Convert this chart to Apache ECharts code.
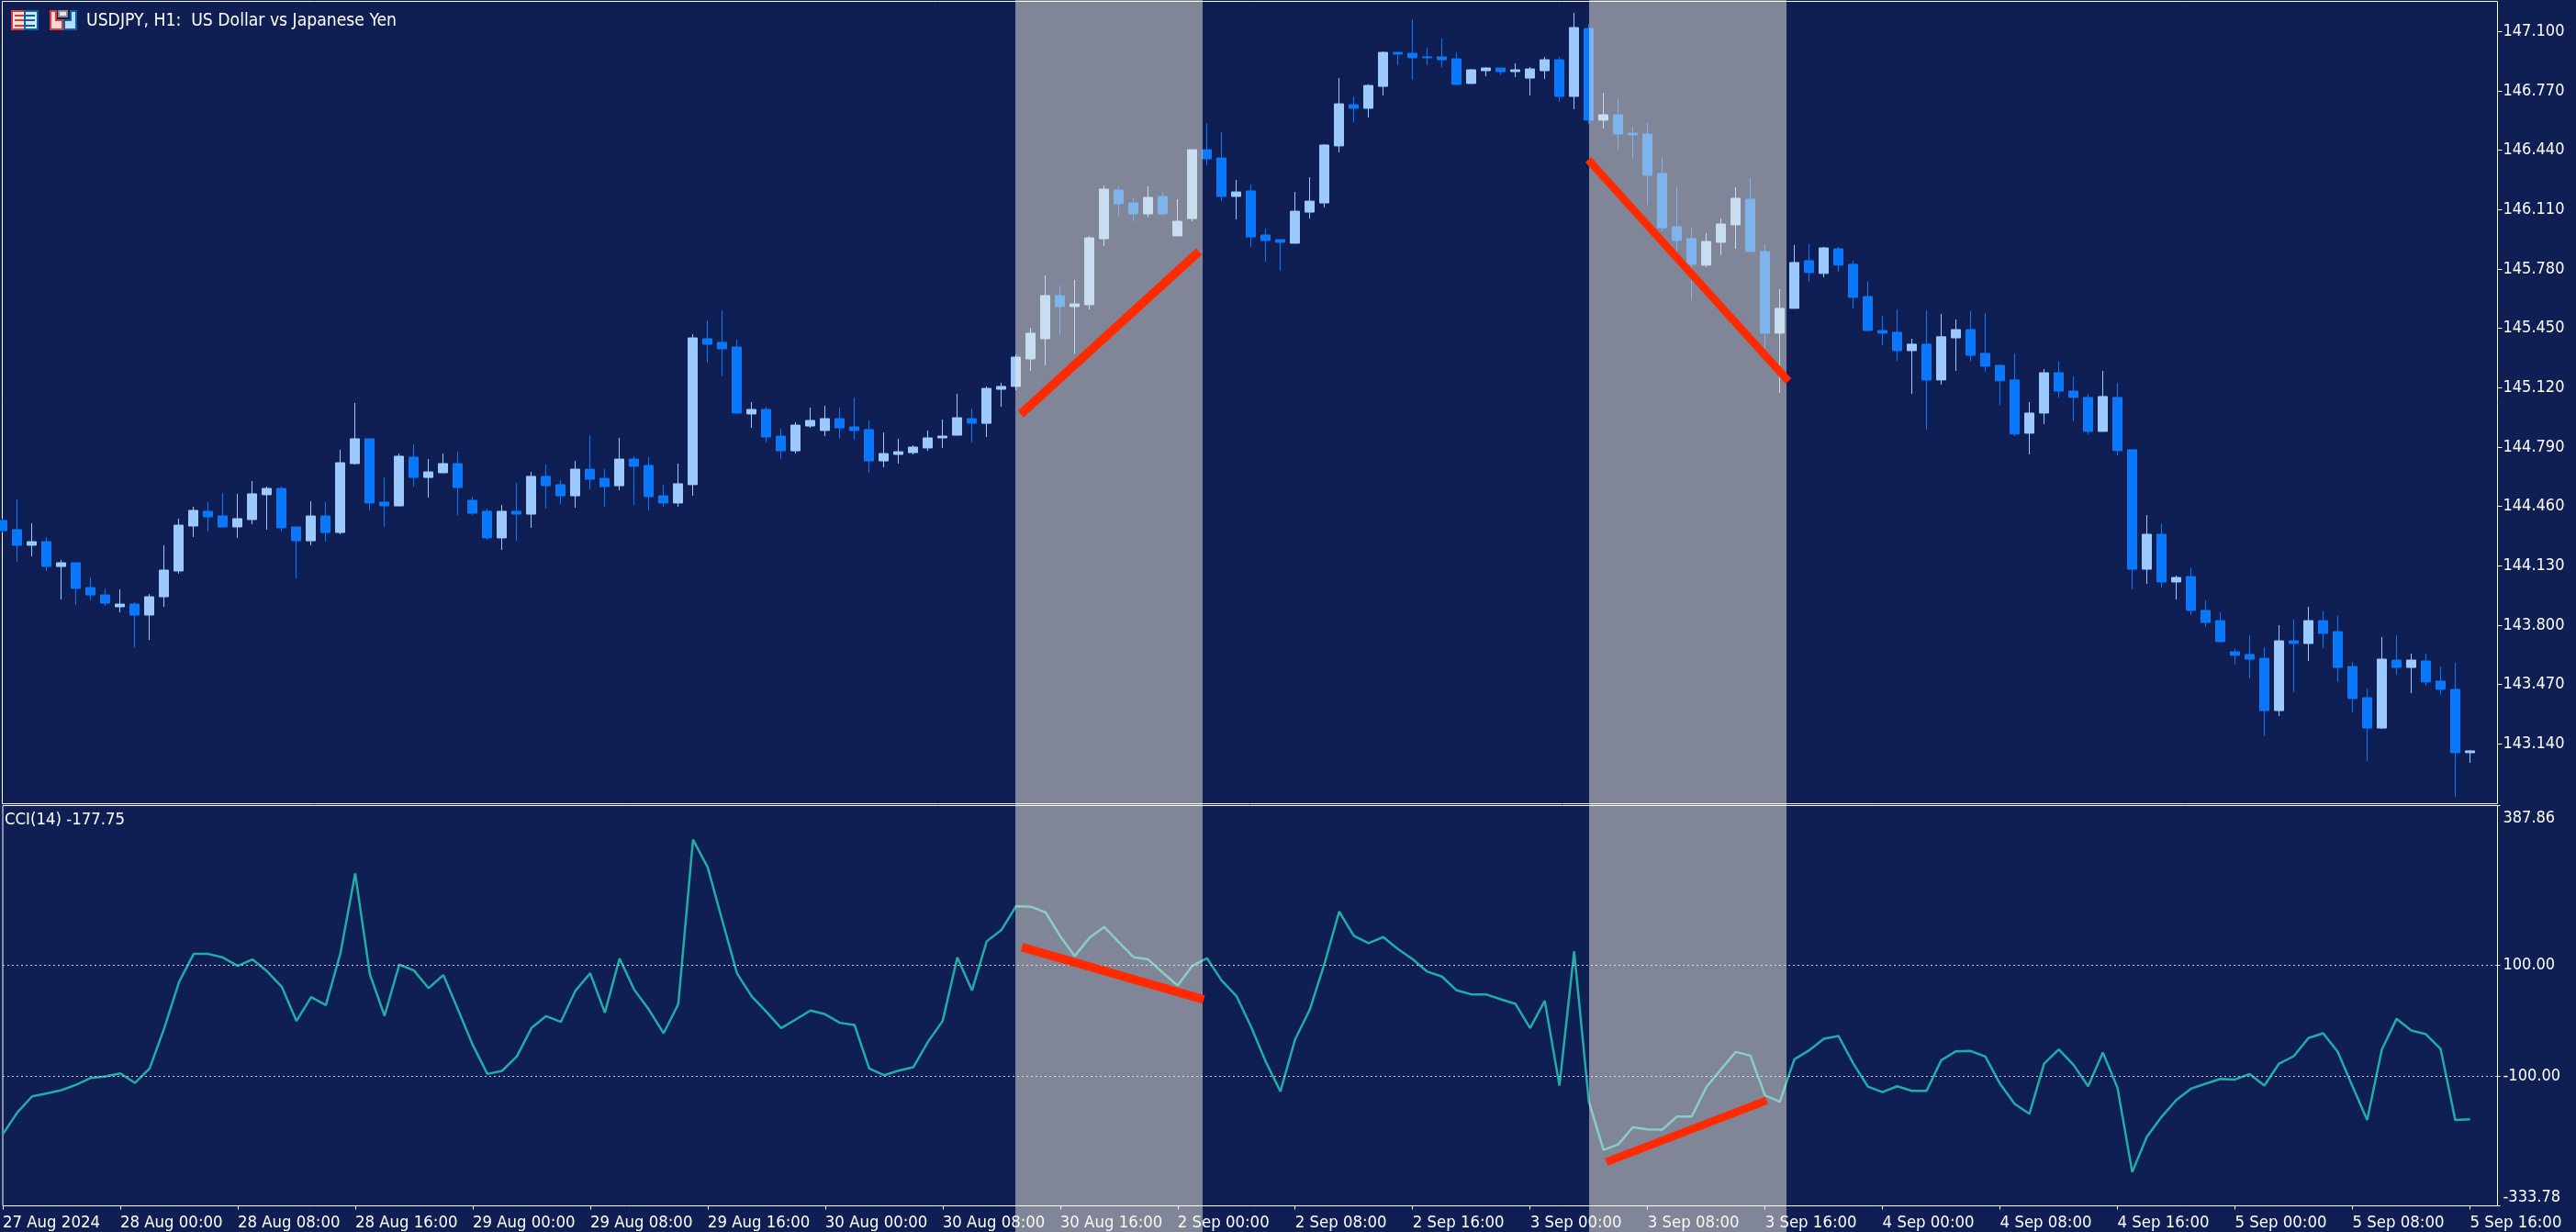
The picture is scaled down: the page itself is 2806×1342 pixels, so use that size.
<!DOCTYPE html>
<html>
<head>
<meta charset="utf-8">
<title>USDJPY H1 with CCI(14)</title>
<style>
  html, body { margin: 0; padding: 0; background: #0f1f54; }
  #chart { width: 2806px; height: 1342px; }
</style>
<script src="https://cdn.jsdelivr.net/npm/echarts@6/dist/echarts.min.js"></script>
</head>
<body>
<div id="chart"></div>
<script>
// Hourly bars, one per array slot, oldest first.
const openPrices = [
  144.382,144.331,144.244,144.264,144.126,144.147,144.009,143.968,143.902,143.917,
  143.856,143.958,144.101,144.351,144.433,144.407,144.346,144.387,144.525,144.560,
  144.346,144.269,144.407,144.315,144.698,144.836,144.484,144.463,144.734,144.621,
  144.647,144.698,144.494,144.433,144.285,144.433,144.417,144.627,144.581,144.519,
  144.667,144.616,144.575,144.723,144.688,144.519,144.479,144.581,145.392,145.372,
  145.346,144.974,144.999,144.851,144.769,144.907,144.882,144.948,144.902,144.887,
  144.713,144.749,144.759,144.785,144.841,144.856,144.948,144.922,145.111,145.127,
  145.280,145.392,145.632,145.571,145.581,145.948,146.219,146.147,146.086,146.183,
  145.964,146.060,146.443,146.397,146.183,146.214,145.969,145.943,145.923,146.096,
  146.147,146.464,146.693,146.673,146.795,146.984,146.979,146.959,146.959,146.948,
  146.811,146.882,146.897,146.877,146.841,146.882,146.943,146.739,147.117,146.607,
  146.637,146.535,146.530,146.311,146.015,145.949,145.801,145.928,146.025,146.168,
  145.877,145.423,145.561,145.826,145.755,145.892,145.806,145.627,145.438,145.428,
  145.326,145.362,145.163,145.397,145.443,145.311,145.244,145.163,144.867,144.979,
  145.203,145.101,145.066,144.877,145.066,144.775,144.111,144.305,144.040,144.070,
  143.882,143.825,143.652,143.637,143.616,143.325,143.713,143.698,143.825,143.764,
  143.570,143.397,143.228,143.606,143.565,143.601,143.489,143.443,143.091
];
const closePrices = [
  144.325,144.244,144.264,144.126,144.147,144.004,143.968,143.922,143.917,143.856,
  143.958,144.106,144.356,144.438,144.402,144.346,144.392,144.530,144.560,144.341,
  144.269,144.407,144.315,144.703,144.836,144.479,144.463,144.739,144.621,144.652,
  144.698,144.565,144.422,144.285,144.433,144.417,144.627,144.575,144.519,144.667,
  144.611,144.570,144.723,144.683,144.514,144.479,144.586,145.397,145.361,145.336,
  144.979,144.999,144.846,144.769,144.912,144.938,144.948,144.897,144.882,144.713,
  144.754,144.764,144.790,144.841,144.851,144.953,144.922,145.116,145.127,145.290,
  145.423,145.632,145.571,145.586,145.953,146.224,146.142,146.086,146.178,146.086,
  146.045,146.443,146.392,146.183,146.208,145.958,145.938,145.928,146.101,146.157,
  146.469,146.698,146.673,146.800,146.984,146.974,146.954,146.954,146.943,146.806,
  146.887,146.897,146.877,146.887,146.892,146.943,146.739,147.122,146.607,146.637,
  146.530,146.525,146.300,146.009,145.938,145.806,145.933,146.030,146.173,145.877,
  145.423,145.561,145.816,145.760,145.897,145.801,145.622,145.438,145.423,145.326,
  145.362,145.163,145.403,145.443,145.300,145.239,145.158,144.862,144.979,145.203,
  145.101,145.066,144.877,145.071,144.770,144.111,144.305,144.040,144.065,143.882,
  143.815,143.708,143.632,143.611,143.325,143.713,143.698,143.825,143.754,143.565,
  143.392,143.228,143.611,143.565,143.606,143.484,143.443,143.091,143.101
];
const highPrices = [
  144.392,144.499,144.366,144.290,144.162,144.147,144.065,144.004,143.999,143.927,
  143.973,144.244,144.392,144.458,144.484,144.535,144.530,144.601,144.570,144.570,
  144.346,144.489,144.484,144.775,145.035,144.836,144.621,144.754,144.805,144.724,
  144.754,144.764,144.514,144.448,144.468,144.591,144.652,144.693,144.606,144.713,
  144.856,144.667,144.841,144.739,144.734,144.581,144.698,145.417,145.494,145.550,
  145.387,145.040,145.014,144.892,144.928,145.009,145.019,145.009,145.065,144.938,
  144.871,144.836,144.800,144.882,144.943,145.086,145.004,145.127,145.147,145.305,
  145.453,145.744,145.688,145.719,145.964,146.244,146.239,146.173,146.239,146.208,
  146.168,146.443,146.591,146.540,146.275,146.249,146.004,145.943,146.208,146.290,
  146.474,146.841,146.739,146.806,146.989,146.984,147.168,147.010,147.061,146.984,
  146.892,146.902,146.897,146.923,146.902,146.959,146.959,147.204,147.142,146.760,
  146.729,146.571,146.591,146.402,146.239,146.008,145.979,146.061,146.234,146.285,
  145.918,145.668,145.913,145.918,145.903,145.903,145.826,145.709,145.520,145.556,
  145.392,145.550,145.530,145.499,145.545,145.535,145.249,145.311,145.040,145.224,
  145.265,145.183,145.086,145.214,145.147,144.775,144.412,144.366,144.076,144.121,
  143.938,143.871,143.667,143.744,143.678,143.800,143.831,143.902,143.877,143.851,
  143.596,143.448,143.734,143.744,143.642,143.642,143.570,143.591,143.106
];
const lowPrices = [
  144.315,144.152,144.183,144.101,143.943,143.912,143.938,143.907,143.871,143.677,
  143.718,143.902,144.086,144.290,144.320,144.341,144.285,144.361,144.331,144.320,
  144.060,144.244,144.264,144.305,144.693,144.438,144.346,144.463,144.570,144.509,
  144.647,144.412,144.412,144.274,144.218,144.269,144.341,144.448,144.473,144.453,
  144.555,144.458,144.550,144.468,144.438,144.458,144.458,144.519,145.259,145.183,
  144.974,144.897,144.815,144.723,144.754,144.897,144.851,144.836,144.831,144.647,
  144.678,144.698,144.749,144.769,144.785,144.856,144.815,144.846,145.014,145.106,
  145.213,145.244,145.412,145.310,145.555,145.907,146.071,146.045,146.066,146.076,
  145.964,146.045,146.356,146.157,146.055,145.902,145.821,145.770,145.923,146.060,
  146.122,146.428,146.596,146.622,146.744,146.913,146.831,146.913,146.902,146.800,
  146.811,146.851,146.857,146.846,146.744,146.836,146.709,146.668,146.586,146.561,
  146.443,146.392,146.137,145.989,145.880,145.607,145.790,145.857,145.892,145.872,
  145.336,145.091,145.561,145.709,145.734,145.765,145.561,145.433,145.357,145.270,
  145.086,144.887,145.137,145.214,145.265,145.209,145.025,144.851,144.749,144.918,
  145.066,144.933,144.861,144.877,144.744,143.999,144.030,144.009,143.943,143.856,
  143.790,143.703,143.581,143.504,143.183,143.295,143.427,143.601,143.672,143.484,
  143.315,143.045,143.223,143.524,143.422,143.463,143.412,142.846,143.035
];
// Commodity Channel Index, period 14, one reading per bar.
const cciValues = [
  -204.9,-165.1,-136.4,-130.9,-125.3,-115.4,-103.2,-100.5,-95.0,-112.1,
  -86.1,-13.2,69.6,120.4,120.4,113.8,98.9,110.5,89.0,61.3,
  -0.5,42.6,28.2,122.1,265.7,83.4,8.9,101.1,90.6,58.6,
  82.3,19.9,-43.6,-96.1,-90.5,-64.6,-13.2,8.3,-2.2,54.2,
  85.6,14.4,112.2,55.8,19.9,-22.6,29.9,326.4,276.7,180.1,
  85.1,43.7,16.0,-13.2,2.2,18.3,11.6,-3.8,-7.7,-86.1,
  -98.3,-90.0,-83.9,-38.1,-0.5,113.8,54.7,143.1,163.5,206.6,
  205.5,195.5,152.5,116.6,149.7,169.0,141.4,114.4,110.5,86.2,
  63.5,98.9,112.7,72.4,44.8,-10.5,-74.0,-127.5,-33.7,19.9,
  102.8,196.7,153.0,139.8,150.8,129.3,111.0,88.4,79.6,54.7,
  47.5,47.5,38.7,30.4,-13.2,35.9,-117.0,124.9,-145.8,-233.0,
  -223.1,-192.2,-196.0,-196.6,-172.8,-172.8,-119.8,-87.8,-56.3,-62.9,
  -134.7,-146.3,-69.6,-53.5,-32.6,-27.6,-76.7,-118.7,-128.7,-118.2,
  -126.4,-126.4,-71.2,-55.2,-54.6,-64.6,-113.7,-150.2,-167.9,-77.3,
  -51.9,-79.5,-118.2,-57.4,-120.9,-272.8,-209.3,-173.4,-143.0,-122.6,
  -113.7,-104.9,-106.0,-96.1,-117.0,-77.3,-64.0,-31.4,-22.6,-56.3,
  -118.2,-178.9,-51.9,3.3,-17.6,-24.3,-50.8,-178.9,-177.75
];

// Date labels, one every eight bars starting at the first bar.
const barsPerLabel = 8;
const timeLabels = [
  '27 Aug 2024','28 Aug 00:00','28 Aug 08:00','28 Aug 16:00','29 Aug 00:00','29 Aug 08:00',
  '29 Aug 16:00','30 Aug 00:00','30 Aug 08:00','30 Aug 16:00','2 Sep 00:00','2 Sep 08:00',
  '2 Sep 16:00','3 Sep 00:00','3 Sep 08:00','3 Sep 16:00','4 Sep 00:00','4 Sep 08:00',
  '4 Sep 16:00','5 Sep 00:00','5 Sep 08:00','5 Sep 16:00'
];
const priceTicks = [143.14,143.47,143.80,144.13,144.46,144.79,145.12,145.45,145.78,146.11,146.44,146.77,147.10];
const cciTicks = [-333.78,-100,100,387.86];
const cciLevels = [100,-100];

// Highlighted divergence windows, in bar positions.
const shadedWindows = [[68.97,81.72],[108.03,121.47]];
// Divergence trend lines as [bar position, value] pairs.
const priceRise = [[69.34,144.974],[81.47,145.877]];
const priceFall = [[107.97,146.387],[121.60,145.157]];
const cciFall = [[69.40,132.6],[81.78,38.2]];
const cciRise = [[109.20,-254.6],[120.10,-144.0]];

const BG = '#0f1f54', WHITE = '#ffffff', UP = '#9ccaff', DOWN = '#0a78fa', TEAL = '#20ada8', RED = '#ff2a00';
const FONT = '"DejaVu Sans Condensed","Liberation Sans",sans-serif';
const DATE_FONT_SIZE = 18.4;
const VALUE_FONT_SIZE = 18;

const xTickValues = timeLabels.map((_, k) => k * barsPerLabel);
const candleData = openPrices.map((o, i) => [i, o, closePrices[i], lowPrices[i], highPrices[i]]);
const cciData = cciValues.map((v, i) => [i, v]);

const chart = echarts.init(document.getElementById('chart'), null, { renderer: 'canvas' });

const trendLine = (name, data, axis, width) => ({
  name, type: 'line', data, xAxisIndex: axis, yAxisIndex: axis,
  symbol: 'none', z: 11, clip: false, silent: true,
  lineStyle: { color: RED, width, cap: 'butt' }
});

// Small red/blue toolbar glyphs beside the symbol caption.
const toolbarIcons = [
  { type:'rect', shape:{x:13,y:12,width:14,height:20}, style:{fill:'#fde3dc',stroke:'#dc3a3a',lineWidth:2} },
  { type:'rect', shape:{x:27,y:12,width:14,height:20}, style:{fill:'#cfe9ff',stroke:'#0a5fa8',lineWidth:2} },
  { type:'rect', shape:{x:16,y:16,width:10,height:2}, style:{fill:'#dc3a3a'} },
  { type:'rect', shape:{x:16,y:21,width:10,height:2}, style:{fill:'#dc3a3a'} },
  { type:'rect', shape:{x:16,y:27,width:10,height:2}, style:{fill:'#dc3a3a'} },
  { type:'rect', shape:{x:28,y:16,width:10,height:2}, style:{fill:'#0a5fa8'} },
  { type:'rect', shape:{x:28,y:21,width:10,height:2}, style:{fill:'#0a5fa8'} },
  { type:'rect', shape:{x:28,y:27,width:10,height:2}, style:{fill:'#0a5fa8'} },
  { type:'polygon', shape:{points:[[55,12],[61,12],[61,22],[68,22],[68,32],[55,32]]}, style:{fill:'#fdd9cf',stroke:'#dc3a3a',lineWidth:2} },
  { type:'polygon', shape:{points:[[77,12],[83,12],[83,32],[70,32],[70,22],[77,22]]}, style:{fill:'#b5dcff',stroke:'#0a5fa8',lineWidth:2} },
  { type:'rect', shape:{x:64,y:12,width:9,height:6}, style:{fill:'#e6e6e6',stroke:'#8c8c8c',lineWidth:2} }
];

chart.setOption({
  animation: false,
  backgroundColor: BG,
  textStyle: { fontFamily: FONT },
  title: [
    { text: 'USDJPY, H1:  US Dollar vs Japanese Yen', left: 94, top: 13.5,
      textStyle: { color: WHITE, fontFamily: FONT, fontSize: 19.2, fontWeight: 'normal' }, padding: 0 },
    { text: 'CCI(14) -177.75', left: 5, top: 884.5,
      textStyle: { color: WHITE, fontFamily: FONT, fontSize: 18.4, fontWeight: 'normal' }, padding: 0 }
  ],
  grid: [
    { left: 2.5, top: 1.5, width: 2718, height: 874, show: true, borderColor: WHITE, borderWidth: 1, backgroundColor: 'transparent' },
    { left: 2.5, top: 877.5, width: 2718, height: 436, show: true, borderColor: WHITE, borderWidth: 1, backgroundColor: 'transparent' }
  ],
  xAxis: [
    { type: 'value', gridIndex: 0, min: 0, max: 169.875, axisLine: {show:false, onZero:false}, axisTick: {show:false}, axisLabel: {show:false}, splitLine: {show:false} },
    { type: 'value', gridIndex: 1, min: 0, max: 169.875, axisLine: {show:false, onZero:false}, splitLine: {show:false},
      axisTick: { show: true, length: 4, customValues: xTickValues, lineStyle: { color: WHITE } },
      axisLabel: {
        customValues: xTickValues, color: WHITE, fontFamily: FONT, fontSize: DATE_FONT_SIZE,
        align: 'left', margin: 9.5, hideOverlap: false, showMinLabel: true, showMaxLabel: true,
        formatter: (v) => timeLabels[Math.round(v / barsPerLabel)]
      } }
  ],
  yAxis: [
    { type: 'value', gridIndex: 0, position: 'right', min: 142.8073, max: 147.2674,
      axisLine: {show:false, onZero:false}, splitLine: {show:false},
      axisTick: { show: true, length: 5, customValues: priceTicks, lineStyle: { color: WHITE } },
      axisLabel: { customValues: priceTicks, color: WHITE, fontFamily: FONT, fontSize: VALUE_FONT_SIZE, margin: 6, padding: [5,0,0,0],
        formatter: (v) => v.toFixed(3) } },
    { type: 'value', gridIndex: 1, position: 'right', min: -333.78, max: 387.86,
      axisLine: {show:false, onZero:false}, splitLine: {show:false},
      axisTick: { show: true, length: 3, customValues: cciTicks, lineStyle: { color: WHITE } },
      axisLabel: { customValues: cciTicks, color: WHITE, fontFamily: FONT, fontSize: VALUE_FONT_SIZE, margin: 6, padding: [5,0,0,0],
        verticalAlignMaxLabel: 'top', verticalAlignMinLabel: 'bottom',
        formatter: (v) => v.toFixed(2) } }
  ],
  series: [
    { name: 'USDJPY', type: 'candlestick', xAxisIndex: 0, yAxisIndex: 0, data: candleData,
      encode: { x: 0, y: [1, 2, 3, 4] }, barWidth: 10, z: 3, silent: true,
      itemStyle: { color: UP, color0: DOWN, borderColor: UP, borderColor0: DOWN, borderWidth: 1 } },
    { name: 'CCI(14)', type: 'line', xAxisIndex: 1, yAxisIndex: 1, data: cciData, symbol: 'none', z: 3, silent: true,
      lineStyle: { color: TEAL, width: 2.5 },
      markLine: { silent: true, symbol: 'none', label: { show: false },
        lineStyle: { color: '#c6cad6', width: 1, type: [2, 3] },
        data: cciLevels.map((level) => ({ yAxis: level })) } },
    { name: 'windows', type: 'custom', xAxisIndex: 0, yAxisIndex: 0, data: shadedWindows, encode: { x: [0, 1] },
      z: 10, silent: true, clip: false,
      renderItem: (params, api) => {
        const x0 = api.coord([api.value(0), 145])[0];
        const x1 = api.coord([api.value(1), 145])[0];
        return { type: 'rect', shape: { x: x0, y: 0, width: x1 - x0, height: api.getHeight() },
          style: { fill: 'rgba(246,241,223,0.49)' } };
      } },
    trendLine('price rise', priceRise, 0, 9.5),
    trendLine('price fall', priceFall, 0, 8.5),
    trendLine('cci fall', cciFall, 1, 9.5),
    trendLine('cci rise', cciRise, 1, 8.5)
  ],
  graphic: toolbarIcons
});
</script>
</body>
</html>
